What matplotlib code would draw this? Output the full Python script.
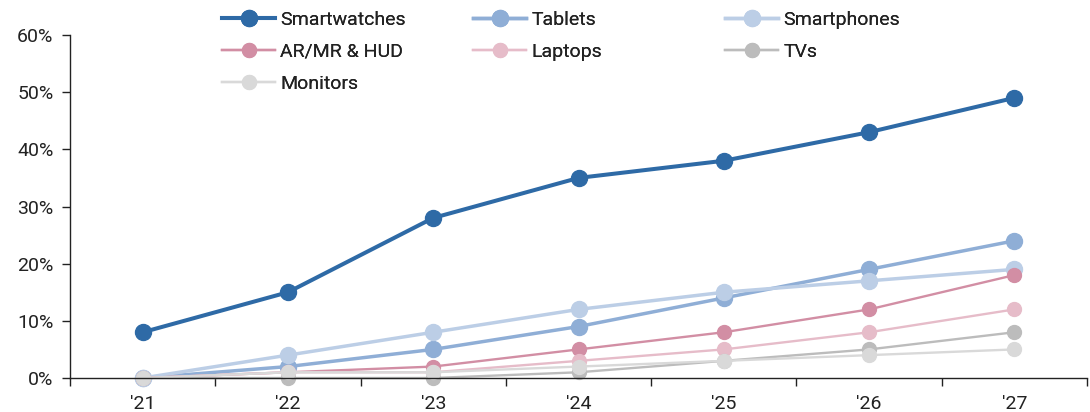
import matplotlib
matplotlib.use("Agg")
import matplotlib.pyplot as plt
from matplotlib.ticker import FixedLocator

plt.rcParams["font.family"] = ["Roboto", "DejaVu Sans"]

years = ["'21", "'22", "'23", "'24", "'25", "'26", "'27"]

smartwatches = [8, 15, 28, 35, 38, 43, 49]
tablets = [0, 2, 5, 9, 14, 19, 24]
smartphones = [0, 4, 8, 12, 15, 17, 19]
ar_mr_hud = [0, 1, 2, 5, 8, 12, 18]
laptops = [0, 1, 1, 3, 5, 8, 12]
tvs = [0, 0, 0, 1, 3, 5, 8]
monitors = [0, 1, 1, 2, 3, 4, 5]

series = [
    ("Smartwatches", smartwatches, "#2E6AA6", 2.9, 11.5),
    ("Tablets", tablets, "#8FAED6", 2.5, 11.5),
    ("Smartphones", smartphones, "#BCCEE6", 2.5, 11.5),
    ("AR/MR & HUD", ar_mr_hud, "#D28EA4", 1.7, 10),
    ("Laptops", laptops, "#E6BCC9", 1.7, 10),
    ("TVs", tvs, "#BCBCBC", 1.7, 10),
    ("Monitors", monitors, "#D9D9D9", 1.7, 10),
]

fig = plt.figure(figsize=(10.9, 4.12), dpi=100)
ax = fig.add_axes([70 / 1090, 34 / 412, 1017 / 1090, 343 / 412])

x = list(range(len(years)))
lines = {}
for name, vals, color, lw, ms in series:
    (ln,) = ax.plot(x, vals, color=color, lw=lw, marker="o", ms=ms, label=name, clip_on=False)
    lines[name] = ln

ax.set_xlim(-0.5, len(years) - 0.5)
ax.set_ylim(0, 60)
ax.set_yticks(range(0, 61, 10))
ax.set_yticklabels([f"{v}%" for v in range(0, 61, 10)])
ax.set_xticks(x)
ax.set_xticklabels(years)
ax.xaxis.set_minor_locator(FixedLocator([i - 0.5 for i in range(len(years) + 1)]))
ax.tick_params(axis="x", which="major", length=0, pad=12, labelsize=14, colors="#222222")
ax.tick_params(axis="x", which="minor", length=6, width=1, color="#222222")
ax.tick_params(axis="y", length=6, width=1, labelsize=14, colors="#222222", pad=6)
for s in ["top", "right"]:
    ax.spines[s].set_visible(False)
for s in ["left", "bottom"]:
    ax.spines[s].set_color("#222222")
    ax.spines[s].set_linewidth(1)

columns = [
    (["Smartwatches", "AR/MR & HUD", "Monitors"], 222),
    (["Tablets", "Laptops"], 473),
    (["Smartphones", "TVs"], 725),
]
for names, xpos in columns:
    leg = fig.legend(
        [lines[n] for n in names],
        names,
        loc="upper left",
        bbox_to_anchor=(xpos / 1090, 1 - 11 / 412),
        frameon=False,
        fontsize=14,
        handlelength=2.75,
        handletextpad=0.25,
        labelspacing=0.72,
        borderpad=0,
        borderaxespad=0,
    )
    for t in leg.get_texts():
        t.set_color("#222222")
    fig.add_artist(leg)

fig.savefig("out.png", dpi=100)
